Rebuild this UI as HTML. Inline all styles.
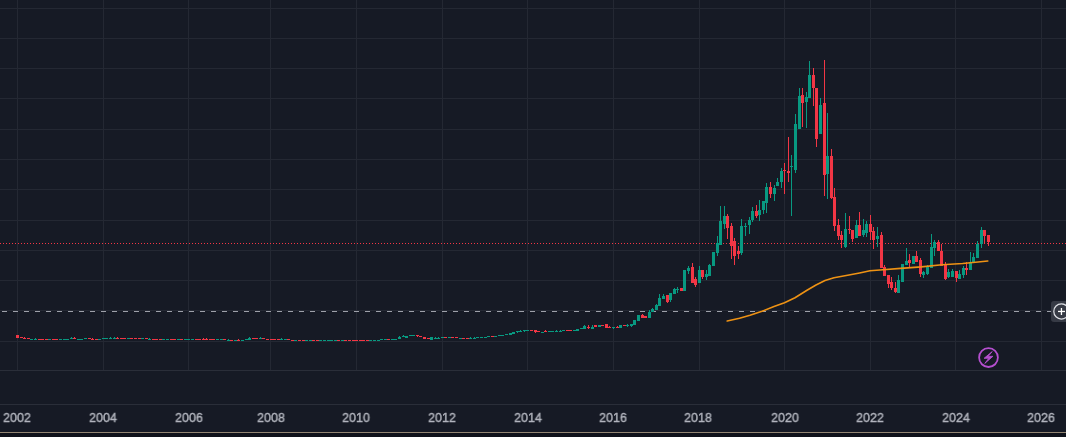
<!DOCTYPE html>
<html><head><meta charset="utf-8"><style>
html,body{margin:0;padding:0;}
body{width:1066px;height:437px;overflow:hidden;background:#161a25;position:relative;font-family:"Liberation Sans",sans-serif;}
svg{position:absolute;left:0;top:0;}
.lb{position:absolute;top:409px;width:60px;text-align:center;font-size:13px;line-height:18px;color:#b2b5be;-webkit-text-stroke:0.4px #b2b5be;transform:scaleX(0.96);will-change:transform;}
.bot{position:absolute;left:0;top:432px;width:1066px;height:1px;background:#928572;}
.bot2{position:absolute;left:0;top:433px;width:1066px;height:4px;background:#0f121a;}
.plus{position:absolute;left:1051px;top:301px;width:30px;height:21px;border-radius:3px;background:#363a45;}
</style></head><body>
<svg width="1066" height="437" viewBox="0 0 1066 437" shape-rendering="crispEdges">
<rect x="0.00" y="8.00" width="1066.00" height="1.00" fill="#242833"/>
<rect x="0.00" y="38.00" width="1066.00" height="1.00" fill="#242833"/>
<rect x="0.00" y="68.00" width="1066.00" height="1.00" fill="#242833"/>
<rect x="0.00" y="98.00" width="1066.00" height="1.00" fill="#242833"/>
<rect x="0.00" y="129.00" width="1066.00" height="1.00" fill="#242833"/>
<rect x="0.00" y="159.00" width="1066.00" height="1.00" fill="#242833"/>
<rect x="0.00" y="189.00" width="1066.00" height="1.00" fill="#242833"/>
<rect x="0.00" y="220.00" width="1066.00" height="1.00" fill="#242833"/>
<rect x="0.00" y="250.00" width="1066.00" height="1.00" fill="#242833"/>
<rect x="0.00" y="280.00" width="1066.00" height="1.00" fill="#242833"/>
<rect x="0.00" y="310.00" width="1066.00" height="1.00" fill="#242833"/>
<rect x="0.00" y="341.00" width="1066.00" height="1.00" fill="#242833"/>
<rect x="17.00" y="0.00" width="1.00" height="370.00" fill="#242833"/>
<rect x="103.00" y="0.00" width="1.00" height="370.00" fill="#242833"/>
<rect x="188.00" y="0.00" width="1.00" height="370.00" fill="#242833"/>
<rect x="270.00" y="0.00" width="1.00" height="370.00" fill="#242833"/>
<rect x="356.00" y="0.00" width="1.00" height="370.00" fill="#242833"/>
<rect x="442.00" y="0.00" width="1.00" height="370.00" fill="#242833"/>
<rect x="527.00" y="0.00" width="1.00" height="370.00" fill="#242833"/>
<rect x="613.00" y="0.00" width="1.00" height="370.00" fill="#242833"/>
<rect x="699.00" y="0.00" width="1.00" height="370.00" fill="#242833"/>
<rect x="784.00" y="0.00" width="1.00" height="370.00" fill="#242833"/>
<rect x="870.00" y="0.00" width="1.00" height="370.00" fill="#242833"/>
<rect x="955.00" y="0.00" width="1.00" height="370.00" fill="#242833"/>
<rect x="1041.00" y="0.00" width="1.00" height="370.00" fill="#242833"/>
<rect x="0.00" y="370.00" width="1066.00" height="1.00" fill="#2a2e39"/>
<rect x="0.00" y="404.00" width="1066.00" height="1.00" fill="#2a2e39"/>
<line x1="0" y1="243.5" x2="1066" y2="243.5" stroke="#f23645" stroke-width="1" stroke-dasharray="1 2"/>
<line x1="2" y1="311.5" x2="1066" y2="311.5" stroke="#9ea1aa" stroke-width="1" stroke-dasharray="5 6"/>
<rect x="16.00" y="335.00" width="3.00" height="3.00" fill="#f23645"/>
<rect x="20.00" y="337.00" width="3.00" height="1.00" fill="#f23645"/>
<rect x="23.00" y="338.00" width="3.00" height="1.00" fill="#f23645"/>
<rect x="24.00" y="337.00" width="1.00" height="2.00" fill="#f23645"/>
<rect x="27.00" y="338.00" width="3.00" height="1.00" fill="#f23645"/>
<rect x="30.00" y="339.00" width="3.00" height="1.00" fill="#089981"/>
<rect x="34.00" y="339.00" width="3.00" height="1.00" fill="#089981"/>
<rect x="35.00" y="338.00" width="1.00" height="2.00" fill="#089981"/>
<rect x="38.00" y="339.00" width="3.00" height="1.00" fill="#f23645"/>
<rect x="41.00" y="339.00" width="3.00" height="1.00" fill="#f23645"/>
<rect x="45.00" y="339.00" width="3.00" height="1.00" fill="#f23645"/>
<rect x="48.00" y="339.00" width="3.00" height="1.00" fill="#089981"/>
<rect x="52.00" y="339.00" width="3.00" height="1.00" fill="#f23645"/>
<rect x="55.00" y="339.00" width="3.00" height="1.00" fill="#f23645"/>
<rect x="59.00" y="339.00" width="3.00" height="1.00" fill="#089981"/>
<rect x="63.00" y="339.00" width="3.00" height="1.00" fill="#089981"/>
<rect x="66.00" y="339.00" width="3.00" height="1.00" fill="#089981"/>
<rect x="70.00" y="338.00" width="3.00" height="1.00" fill="#089981"/>
<rect x="71.00" y="337.00" width="1.00" height="2.00" fill="#089981"/>
<rect x="73.00" y="338.00" width="3.00" height="1.00" fill="#f23645"/>
<rect x="74.00" y="337.00" width="1.00" height="2.00" fill="#f23645"/>
<rect x="77.00" y="339.00" width="3.00" height="1.00" fill="#089981"/>
<rect x="80.00" y="339.00" width="3.00" height="1.00" fill="#089981"/>
<rect x="84.00" y="338.00" width="3.00" height="1.00" fill="#089981"/>
<rect x="88.00" y="338.00" width="3.00" height="1.00" fill="#f23645"/>
<rect x="91.00" y="339.00" width="3.00" height="1.00" fill="#f23645"/>
<rect x="92.00" y="338.00" width="1.00" height="2.00" fill="#f23645"/>
<rect x="95.00" y="339.00" width="3.00" height="1.00" fill="#f23645"/>
<rect x="98.00" y="339.00" width="3.00" height="1.00" fill="#089981"/>
<rect x="102.00" y="338.00" width="3.00" height="1.00" fill="#089981"/>
<rect x="105.00" y="338.00" width="3.00" height="1.00" fill="#089981"/>
<rect x="109.00" y="338.00" width="3.00" height="1.00" fill="#089981"/>
<rect x="110.00" y="337.00" width="1.00" height="2.00" fill="#089981"/>
<rect x="113.00" y="338.00" width="3.00" height="1.00" fill="#089981"/>
<rect x="114.00" y="337.00" width="1.00" height="2.00" fill="#089981"/>
<rect x="116.00" y="338.00" width="3.00" height="1.00" fill="#f23645"/>
<rect x="117.00" y="337.00" width="1.00" height="2.00" fill="#f23645"/>
<rect x="120.00" y="338.00" width="3.00" height="1.00" fill="#f23645"/>
<rect x="123.00" y="338.00" width="3.00" height="1.00" fill="#f23645"/>
<rect x="127.00" y="338.00" width="3.00" height="1.00" fill="#089981"/>
<rect x="130.00" y="338.00" width="3.00" height="1.00" fill="#f23645"/>
<rect x="134.00" y="338.00" width="3.00" height="1.00" fill="#f23645"/>
<rect x="138.00" y="338.00" width="3.00" height="1.00" fill="#f23645"/>
<rect x="141.00" y="338.00" width="3.00" height="1.00" fill="#089981"/>
<rect x="145.00" y="338.00" width="3.00" height="1.00" fill="#f23645"/>
<rect x="148.00" y="339.00" width="3.00" height="1.00" fill="#089981"/>
<rect x="149.00" y="338.00" width="1.00" height="2.00" fill="#089981"/>
<rect x="152.00" y="339.00" width="3.00" height="1.00" fill="#f23645"/>
<rect x="155.00" y="339.00" width="3.00" height="1.00" fill="#f23645"/>
<rect x="159.00" y="339.00" width="3.00" height="1.00" fill="#f23645"/>
<rect x="162.00" y="339.00" width="3.00" height="1.00" fill="#089981"/>
<rect x="166.00" y="339.00" width="3.00" height="1.00" fill="#089981"/>
<rect x="170.00" y="339.00" width="3.00" height="1.00" fill="#f23645"/>
<rect x="173.00" y="339.00" width="3.00" height="1.00" fill="#f23645"/>
<rect x="177.00" y="339.00" width="3.00" height="1.00" fill="#089981"/>
<rect x="180.00" y="339.00" width="3.00" height="1.00" fill="#f23645"/>
<rect x="184.00" y="339.00" width="3.00" height="1.00" fill="#089981"/>
<rect x="187.00" y="339.00" width="3.00" height="1.00" fill="#089981"/>
<rect x="191.00" y="339.00" width="3.00" height="1.00" fill="#089981"/>
<rect x="195.00" y="339.00" width="3.00" height="1.00" fill="#f23645"/>
<rect x="198.00" y="339.00" width="3.00" height="1.00" fill="#f23645"/>
<rect x="202.00" y="339.00" width="3.00" height="1.00" fill="#f23645"/>
<rect x="203.00" y="338.00" width="1.00" height="2.00" fill="#f23645"/>
<rect x="205.00" y="339.00" width="3.00" height="1.00" fill="#f23645"/>
<rect x="206.00" y="338.00" width="1.00" height="2.00" fill="#f23645"/>
<rect x="209.00" y="339.00" width="3.00" height="1.00" fill="#f23645"/>
<rect x="212.00" y="339.00" width="3.00" height="1.00" fill="#f23645"/>
<rect x="216.00" y="339.00" width="3.00" height="1.00" fill="#089981"/>
<rect x="220.00" y="339.00" width="3.00" height="1.00" fill="#089981"/>
<rect x="223.00" y="339.00" width="3.00" height="1.00" fill="#f23645"/>
<rect x="227.00" y="340.00" width="3.00" height="1.00" fill="#089981"/>
<rect x="228.00" y="339.00" width="1.00" height="2.00" fill="#089981"/>
<rect x="230.00" y="340.00" width="3.00" height="1.00" fill="#f23645"/>
<rect x="234.00" y="340.00" width="3.00" height="1.00" fill="#089981"/>
<rect x="237.00" y="340.00" width="3.00" height="1.00" fill="#f23645"/>
<rect x="238.00" y="339.00" width="1.00" height="2.00" fill="#f23645"/>
<rect x="241.00" y="340.00" width="3.00" height="1.00" fill="#089981"/>
<rect x="245.00" y="339.00" width="3.00" height="1.00" fill="#089981"/>
<rect x="248.00" y="338.00" width="3.00" height="2.00" fill="#089981"/>
<rect x="249.00" y="337.00" width="1.00" height="3.00" fill="#089981"/>
<rect x="252.00" y="338.00" width="3.00" height="1.00" fill="#f23645"/>
<rect x="255.00" y="338.00" width="3.00" height="1.00" fill="#f23645"/>
<rect x="259.00" y="338.00" width="3.00" height="1.00" fill="#089981"/>
<rect x="260.00" y="337.00" width="1.00" height="2.00" fill="#089981"/>
<rect x="262.00" y="338.00" width="3.00" height="1.00" fill="#f23645"/>
<rect x="266.00" y="339.00" width="3.00" height="1.00" fill="#f23645"/>
<rect x="270.00" y="339.00" width="3.00" height="1.00" fill="#f23645"/>
<rect x="273.00" y="339.00" width="3.00" height="1.00" fill="#f23645"/>
<rect x="277.00" y="339.00" width="3.00" height="1.00" fill="#f23645"/>
<rect x="280.00" y="339.00" width="3.00" height="1.00" fill="#089981"/>
<rect x="281.00" y="338.00" width="1.00" height="2.00" fill="#089981"/>
<rect x="284.00" y="339.00" width="3.00" height="1.00" fill="#089981"/>
<rect x="287.00" y="339.00" width="3.00" height="1.00" fill="#f23645"/>
<rect x="291.00" y="340.00" width="3.00" height="1.00" fill="#f23645"/>
<rect x="294.00" y="340.00" width="3.00" height="1.00" fill="#089981"/>
<rect x="298.00" y="340.00" width="3.00" height="1.00" fill="#f23645"/>
<rect x="302.00" y="340.00" width="3.00" height="1.00" fill="#f23645"/>
<rect x="305.00" y="340.00" width="3.00" height="1.00" fill="#089981"/>
<rect x="309.00" y="340.00" width="3.00" height="1.00" fill="#089981"/>
<rect x="312.00" y="340.00" width="3.00" height="1.00" fill="#f23645"/>
<rect x="316.00" y="340.00" width="3.00" height="1.00" fill="#f23645"/>
<rect x="319.00" y="340.00" width="3.00" height="1.00" fill="#089981"/>
<rect x="323.00" y="340.00" width="3.00" height="1.00" fill="#089981"/>
<rect x="327.00" y="340.00" width="3.00" height="1.00" fill="#089981"/>
<rect x="330.00" y="340.00" width="3.00" height="1.00" fill="#089981"/>
<rect x="334.00" y="340.00" width="3.00" height="1.00" fill="#089981"/>
<rect x="337.00" y="340.00" width="3.00" height="1.00" fill="#f23645"/>
<rect x="341.00" y="340.00" width="3.00" height="1.00" fill="#089981"/>
<rect x="344.00" y="340.00" width="3.00" height="1.00" fill="#f23645"/>
<rect x="348.00" y="340.00" width="3.00" height="1.00" fill="#f23645"/>
<rect x="352.00" y="340.00" width="3.00" height="1.00" fill="#f23645"/>
<rect x="355.00" y="340.00" width="3.00" height="1.00" fill="#f23645"/>
<rect x="359.00" y="340.00" width="3.00" height="1.00" fill="#f23645"/>
<rect x="362.00" y="340.00" width="3.00" height="1.00" fill="#f23645"/>
<rect x="366.00" y="340.00" width="3.00" height="1.00" fill="#f23645"/>
<rect x="369.00" y="340.00" width="3.00" height="1.00" fill="#089981"/>
<rect x="373.00" y="340.00" width="3.00" height="1.00" fill="#089981"/>
<rect x="377.00" y="340.00" width="3.00" height="1.00" fill="#089981"/>
<rect x="380.00" y="339.00" width="3.00" height="1.00" fill="#089981"/>
<rect x="384.00" y="339.00" width="3.00" height="1.00" fill="#089981"/>
<rect x="387.00" y="339.00" width="3.00" height="1.00" fill="#f23645"/>
<rect x="391.00" y="339.00" width="3.00" height="1.00" fill="#089981"/>
<rect x="394.00" y="339.00" width="3.00" height="1.00" fill="#089981"/>
<rect x="398.00" y="337.00" width="3.00" height="2.00" fill="#089981"/>
<rect x="399.00" y="336.00" width="1.00" height="3.00" fill="#089981"/>
<rect x="402.00" y="336.00" width="3.00" height="1.00" fill="#089981"/>
<rect x="403.00" y="335.00" width="1.00" height="2.00" fill="#089981"/>
<rect x="405.00" y="336.00" width="3.00" height="2.00" fill="#089981"/>
<rect x="409.00" y="335.00" width="3.00" height="1.00" fill="#089981"/>
<rect x="412.00" y="335.00" width="3.00" height="1.00" fill="#089981"/>
<rect x="416.00" y="335.00" width="3.00" height="1.00" fill="#f23645"/>
<rect x="417.00" y="335.00" width="1.00" height="2.00" fill="#f23645"/>
<rect x="419.00" y="336.00" width="3.00" height="1.00" fill="#f23645"/>
<rect x="423.00" y="337.00" width="3.00" height="2.00" fill="#f23645"/>
<rect x="427.00" y="338.00" width="3.00" height="1.00" fill="#f23645"/>
<rect x="430.00" y="337.00" width="3.00" height="3.00" fill="#089981"/>
<rect x="434.00" y="338.00" width="3.00" height="1.00" fill="#089981"/>
<rect x="435.00" y="337.00" width="1.00" height="2.00" fill="#089981"/>
<rect x="437.00" y="338.00" width="3.00" height="1.00" fill="#089981"/>
<rect x="438.00" y="337.00" width="1.00" height="2.00" fill="#089981"/>
<rect x="441.00" y="337.00" width="3.00" height="1.00" fill="#089981"/>
<rect x="444.00" y="337.00" width="3.00" height="1.00" fill="#f23645"/>
<rect x="448.00" y="337.00" width="3.00" height="1.00" fill="#089981"/>
<rect x="451.00" y="337.00" width="3.00" height="1.00" fill="#f23645"/>
<rect x="455.00" y="337.00" width="3.00" height="1.00" fill="#f23645"/>
<rect x="459.00" y="338.00" width="3.00" height="1.00" fill="#089981"/>
<rect x="462.00" y="338.00" width="3.00" height="1.00" fill="#f23645"/>
<rect x="466.00" y="338.00" width="3.00" height="1.00" fill="#f23645"/>
<rect x="469.00" y="338.00" width="3.00" height="1.00" fill="#089981"/>
<rect x="470.00" y="337.00" width="1.00" height="2.00" fill="#089981"/>
<rect x="473.00" y="338.00" width="3.00" height="1.00" fill="#089981"/>
<rect x="474.00" y="337.00" width="1.00" height="2.00" fill="#089981"/>
<rect x="476.00" y="337.00" width="3.00" height="1.00" fill="#089981"/>
<rect x="480.00" y="337.00" width="3.00" height="1.00" fill="#089981"/>
<rect x="484.00" y="337.00" width="3.00" height="1.00" fill="#089981"/>
<rect x="487.00" y="336.00" width="3.00" height="1.00" fill="#089981"/>
<rect x="491.00" y="336.00" width="3.00" height="1.00" fill="#f23645"/>
<rect x="494.00" y="336.00" width="3.00" height="1.00" fill="#089981"/>
<rect x="498.00" y="335.00" width="3.00" height="1.00" fill="#089981"/>
<rect x="501.00" y="335.00" width="3.00" height="1.00" fill="#089981"/>
<rect x="505.00" y="334.00" width="3.00" height="1.00" fill="#089981"/>
<rect x="509.00" y="333.00" width="3.00" height="2.00" fill="#089981"/>
<rect x="512.00" y="332.00" width="3.00" height="2.00" fill="#089981"/>
<rect x="516.00" y="331.00" width="3.00" height="1.00" fill="#089981"/>
<rect x="517.00" y="331.00" width="1.00" height="2.00" fill="#089981"/>
<rect x="519.00" y="331.00" width="3.00" height="1.00" fill="#089981"/>
<rect x="520.00" y="330.00" width="1.00" height="2.00" fill="#089981"/>
<rect x="523.00" y="330.00" width="3.00" height="1.00" fill="#089981"/>
<rect x="524.00" y="330.00" width="1.00" height="2.00" fill="#089981"/>
<rect x="526.00" y="330.00" width="3.00" height="1.00" fill="#089981"/>
<rect x="530.00" y="330.00" width="3.00" height="1.00" fill="#f23645"/>
<rect x="534.00" y="330.00" width="3.00" height="2.00" fill="#f23645"/>
<rect x="535.00" y="330.00" width="1.00" height="3.00" fill="#f23645"/>
<rect x="537.00" y="331.00" width="3.00" height="1.00" fill="#f23645"/>
<rect x="541.00" y="332.00" width="3.00" height="1.00" fill="#089981"/>
<rect x="544.00" y="331.00" width="3.00" height="1.00" fill="#f23645"/>
<rect x="545.00" y="330.00" width="1.00" height="2.00" fill="#f23645"/>
<rect x="548.00" y="331.00" width="3.00" height="1.00" fill="#089981"/>
<rect x="551.00" y="331.00" width="3.00" height="1.00" fill="#089981"/>
<rect x="555.00" y="331.00" width="3.00" height="1.00" fill="#089981"/>
<rect x="556.00" y="330.00" width="1.00" height="2.00" fill="#089981"/>
<rect x="559.00" y="331.00" width="3.00" height="1.00" fill="#089981"/>
<rect x="560.00" y="330.00" width="1.00" height="2.00" fill="#089981"/>
<rect x="562.00" y="330.00" width="3.00" height="1.00" fill="#089981"/>
<rect x="566.00" y="330.00" width="3.00" height="1.00" fill="#f23645"/>
<rect x="569.00" y="330.00" width="3.00" height="1.00" fill="#f23645"/>
<rect x="573.00" y="330.00" width="3.00" height="1.20" fill="#089981"/>
<rect x="576.00" y="329.00" width="3.00" height="2.00" fill="#089981"/>
<rect x="580.00" y="328.00" width="3.00" height="1.20" fill="#089981"/>
<rect x="584.00" y="325.00" width="1.00" height="4.00" fill="#089981"/>
<rect x="583.00" y="326.00" width="3.00" height="3.00" fill="#089981"/>
<rect x="588.00" y="325.00" width="1.00" height="4.00" fill="#f23645"/>
<rect x="587.00" y="327.00" width="3.00" height="1.20" fill="#f23645"/>
<rect x="592.00" y="324.50" width="1.00" height="4.50" fill="#089981"/>
<rect x="591.00" y="327.00" width="3.00" height="2.00" fill="#089981"/>
<rect x="595.00" y="324.50" width="1.00" height="2.50" fill="#f23645"/>
<rect x="594.00" y="325.00" width="3.00" height="2.00" fill="#f23645"/>
<rect x="598.00" y="324.50" width="3.00" height="2.50" fill="#089981"/>
<rect x="601.00" y="324.50" width="3.00" height="1.20" fill="#f23645"/>
<rect x="605.00" y="324.00" width="3.00" height="4.00" fill="#f23645"/>
<rect x="609.00" y="326.00" width="1.00" height="2.00" fill="#f23645"/>
<rect x="608.00" y="327.00" width="3.00" height="1.00" fill="#f23645"/>
<rect x="613.00" y="327.00" width="1.00" height="2.00" fill="#089981"/>
<rect x="612.00" y="327.00" width="3.00" height="1.20" fill="#089981"/>
<rect x="617.00" y="326.00" width="1.00" height="2.00" fill="#f23645"/>
<rect x="616.00" y="326.50" width="3.00" height="1.50" fill="#f23645"/>
<rect x="619.00" y="325.00" width="3.00" height="3.00" fill="#089981"/>
<rect x="623.00" y="325.00" width="3.00" height="1.20" fill="#f23645"/>
<rect x="627.00" y="324.00" width="1.00" height="2.50" fill="#089981"/>
<rect x="626.00" y="324.50" width="3.00" height="1.50" fill="#089981"/>
<rect x="631.00" y="324.00" width="1.00" height="2.50" fill="#089981"/>
<rect x="630.00" y="324.00" width="3.00" height="2.00" fill="#089981"/>
<rect x="633.00" y="320.00" width="3.00" height="5.00" fill="#089981"/>
<rect x="637.00" y="315.00" width="3.00" height="6.00" fill="#089981"/>
<rect x="642.00" y="314.00" width="1.00" height="4.00" fill="#f23645"/>
<rect x="641.00" y="315.00" width="3.00" height="3.00" fill="#f23645"/>
<rect x="645.00" y="316.00" width="1.00" height="2.00" fill="#f23645"/>
<rect x="644.00" y="316.00" width="3.00" height="1.50" fill="#f23645"/>
<rect x="649.00" y="310.00" width="1.00" height="8.00" fill="#089981"/>
<rect x="648.00" y="312.00" width="3.00" height="6.00" fill="#089981"/>
<rect x="652.00" y="307.50" width="1.00" height="4.50" fill="#089981"/>
<rect x="651.00" y="309.00" width="3.00" height="3.00" fill="#089981"/>
<rect x="656.00" y="303.50" width="1.00" height="6.50" fill="#089981"/>
<rect x="655.00" y="304.50" width="3.00" height="5.50" fill="#089981"/>
<rect x="659.00" y="294.00" width="1.00" height="12.00" fill="#089981"/>
<rect x="658.00" y="298.00" width="3.00" height="8.00" fill="#089981"/>
<rect x="663.00" y="293.50" width="1.00" height="5.10" fill="#089981"/>
<rect x="662.00" y="296.30" width="3.00" height="2.30" fill="#089981"/>
<rect x="667.00" y="295.20" width="1.00" height="7.80" fill="#f23645"/>
<rect x="666.00" y="295.20" width="3.00" height="6.30" fill="#f23645"/>
<rect x="670.00" y="293.00" width="1.00" height="9.00" fill="#089981"/>
<rect x="669.00" y="293.00" width="3.00" height="7.30" fill="#089981"/>
<rect x="674.00" y="287.50" width="1.00" height="6.50" fill="#089981"/>
<rect x="673.00" y="289.00" width="3.00" height="5.00" fill="#089981"/>
<rect x="677.00" y="287.00" width="1.00" height="6.00" fill="#089981"/>
<rect x="676.00" y="289.00" width="3.00" height="1.20" fill="#089981"/>
<rect x="680.00" y="287.50" width="3.00" height="3.70" fill="#f23645"/>
<rect x="683.00" y="270.00" width="3.00" height="21.00" fill="#089981"/>
<rect x="688.00" y="266.20" width="1.00" height="7.40" fill="#089981"/>
<rect x="687.00" y="268.00" width="3.00" height="3.30" fill="#089981"/>
<rect x="692.00" y="262.70" width="1.00" height="20.10" fill="#f23645"/>
<rect x="691.00" y="266.70" width="3.00" height="16.10" fill="#f23645"/>
<rect x="695.00" y="277.00" width="1.00" height="9.80" fill="#f23645"/>
<rect x="694.00" y="278.80" width="3.00" height="5.70" fill="#f23645"/>
<rect x="699.00" y="266.20" width="1.00" height="16.60" fill="#089981"/>
<rect x="698.00" y="270.00" width="3.00" height="12.80" fill="#089981"/>
<rect x="702.00" y="270.20" width="1.00" height="8.80" fill="#f23645"/>
<rect x="701.00" y="270.20" width="3.00" height="6.80" fill="#f23645"/>
<rect x="706.00" y="270.00" width="1.00" height="10.00" fill="#089981"/>
<rect x="705.00" y="274.20" width="3.00" height="2.80" fill="#089981"/>
<rect x="709.00" y="263.50" width="1.00" height="12.50" fill="#089981"/>
<rect x="708.00" y="264.50" width="3.00" height="11.50" fill="#089981"/>
<rect x="712.00" y="252.00" width="3.00" height="13.60" fill="#089981"/>
<rect x="717.00" y="235.90" width="1.00" height="20.10" fill="#089981"/>
<rect x="716.00" y="243.30" width="3.00" height="9.70" fill="#089981"/>
<rect x="720.00" y="206.40" width="1.00" height="38.60" fill="#089981"/>
<rect x="719.00" y="221.00" width="3.00" height="24.00" fill="#089981"/>
<rect x="724.00" y="206.00" width="1.00" height="23.00" fill="#089981"/>
<rect x="723.00" y="216.00" width="3.00" height="8.00" fill="#089981"/>
<rect x="727.00" y="214.00" width="1.00" height="25.00" fill="#f23645"/>
<rect x="726.00" y="216.00" width="3.00" height="12.00" fill="#f23645"/>
<rect x="731.00" y="222.50" width="1.00" height="36.50" fill="#f23645"/>
<rect x="730.00" y="226.00" width="3.00" height="20.00" fill="#f23645"/>
<rect x="734.00" y="238.00" width="1.00" height="27.00" fill="#f23645"/>
<rect x="733.00" y="241.00" width="3.00" height="15.00" fill="#f23645"/>
<rect x="738.00" y="246.00" width="1.00" height="13.00" fill="#f23645"/>
<rect x="737.00" y="251.00" width="3.00" height="3.00" fill="#f23645"/>
<rect x="741.00" y="219.00" width="1.00" height="36.00" fill="#089981"/>
<rect x="740.00" y="226.00" width="3.00" height="27.00" fill="#089981"/>
<rect x="745.00" y="223.00" width="1.00" height="13.00" fill="#089981"/>
<rect x="744.00" y="225.70" width="3.00" height="1.60" fill="#089981"/>
<rect x="749.00" y="217.00" width="1.00" height="17.00" fill="#089981"/>
<rect x="748.00" y="220.00" width="3.00" height="4.70" fill="#089981"/>
<rect x="752.00" y="207.00" width="1.00" height="14.60" fill="#089981"/>
<rect x="751.00" y="210.80" width="3.00" height="9.20" fill="#089981"/>
<rect x="756.00" y="204.60" width="1.00" height="13.40" fill="#f23645"/>
<rect x="755.00" y="210.80" width="3.00" height="5.20" fill="#f23645"/>
<rect x="759.00" y="200.00" width="1.00" height="21.00" fill="#089981"/>
<rect x="758.00" y="209.80" width="3.00" height="5.20" fill="#089981"/>
<rect x="763.00" y="201.00" width="1.00" height="12.90" fill="#089981"/>
<rect x="762.00" y="201.00" width="3.00" height="8.80" fill="#089981"/>
<rect x="766.00" y="183.00" width="1.00" height="29.80" fill="#089981"/>
<rect x="765.00" y="187.00" width="3.00" height="16.00" fill="#089981"/>
<rect x="770.00" y="182.00" width="1.00" height="16.00" fill="#f23645"/>
<rect x="769.00" y="187.00" width="3.00" height="7.00" fill="#f23645"/>
<rect x="774.00" y="185.00" width="1.00" height="15.70" fill="#089981"/>
<rect x="773.00" y="188.00" width="3.00" height="6.00" fill="#089981"/>
<rect x="777.00" y="178.00" width="1.00" height="8.00" fill="#089981"/>
<rect x="776.00" y="182.00" width="3.00" height="4.00" fill="#089981"/>
<rect x="781.00" y="167.50" width="1.00" height="20.50" fill="#089981"/>
<rect x="780.00" y="171.00" width="3.00" height="11.00" fill="#089981"/>
<rect x="784.00" y="163.00" width="1.00" height="31.00" fill="#f23645"/>
<rect x="783.00" y="169.50" width="3.00" height="1.50" fill="#f23645"/>
<rect x="788.00" y="136.50" width="1.00" height="45.50" fill="#f23645"/>
<rect x="787.00" y="171.00" width="3.00" height="2.00" fill="#f23645"/>
<rect x="791.00" y="154.60" width="1.00" height="61.40" fill="#089981"/>
<rect x="790.00" y="165.60" width="3.00" height="1.40" fill="#089981"/>
<rect x="795.00" y="113.80" width="1.00" height="59.20" fill="#089981"/>
<rect x="794.00" y="124.00" width="3.00" height="46.00" fill="#089981"/>
<rect x="799.00" y="88.00" width="1.00" height="41.00" fill="#089981"/>
<rect x="798.00" y="96.00" width="3.00" height="33.00" fill="#089981"/>
<rect x="802.00" y="88.00" width="1.00" height="38.50" fill="#f23645"/>
<rect x="801.00" y="95.00" width="3.00" height="7.50" fill="#f23645"/>
<rect x="806.00" y="92.00" width="1.00" height="36.00" fill="#089981"/>
<rect x="805.00" y="97.00" width="3.00" height="5.00" fill="#089981"/>
<rect x="809.00" y="61.00" width="1.00" height="37.00" fill="#089981"/>
<rect x="808.00" y="75.00" width="3.00" height="23.00" fill="#089981"/>
<rect x="813.00" y="68.00" width="1.00" height="38.00" fill="#f23645"/>
<rect x="812.00" y="75.00" width="3.00" height="13.00" fill="#f23645"/>
<rect x="816.00" y="88.00" width="1.00" height="59.00" fill="#f23645"/>
<rect x="815.00" y="88.00" width="3.00" height="51.00" fill="#f23645"/>
<rect x="820.00" y="98.00" width="1.00" height="36.00" fill="#089981"/>
<rect x="819.00" y="105.00" width="3.00" height="29.00" fill="#089981"/>
<rect x="824.00" y="60.00" width="1.00" height="136.00" fill="#f23645"/>
<rect x="823.00" y="103.00" width="3.00" height="71.50" fill="#f23645"/>
<rect x="827.00" y="113.00" width="1.00" height="86.00" fill="#089981"/>
<rect x="826.00" y="156.00" width="3.00" height="18.00" fill="#089981"/>
<rect x="831.00" y="149.00" width="1.00" height="50.00" fill="#f23645"/>
<rect x="830.00" y="156.00" width="3.00" height="42.00" fill="#f23645"/>
<rect x="834.00" y="188.00" width="1.00" height="43.00" fill="#f23645"/>
<rect x="833.00" y="197.00" width="3.00" height="29.00" fill="#f23645"/>
<rect x="838.00" y="219.00" width="1.00" height="21.00" fill="#f23645"/>
<rect x="837.00" y="225.00" width="3.00" height="11.00" fill="#f23645"/>
<rect x="841.00" y="231.00" width="1.00" height="16.70" fill="#f23645"/>
<rect x="840.00" y="235.00" width="3.00" height="5.00" fill="#f23645"/>
<rect x="845.00" y="213.00" width="1.00" height="35.00" fill="#089981"/>
<rect x="844.00" y="229.00" width="3.00" height="18.00" fill="#089981"/>
<rect x="849.00" y="216.00" width="1.00" height="18.00" fill="#f23645"/>
<rect x="848.00" y="228.50" width="3.00" height="1.20" fill="#f23645"/>
<rect x="852.00" y="230.00" width="1.00" height="11.50" fill="#f23645"/>
<rect x="851.00" y="230.00" width="3.00" height="9.00" fill="#f23645"/>
<rect x="856.00" y="220.00" width="1.00" height="17.70" fill="#089981"/>
<rect x="855.00" y="225.00" width="3.00" height="12.70" fill="#089981"/>
<rect x="859.00" y="212.00" width="1.00" height="24.00" fill="#f23645"/>
<rect x="858.00" y="225.00" width="3.00" height="11.00" fill="#f23645"/>
<rect x="863.00" y="219.00" width="1.00" height="17.50" fill="#089981"/>
<rect x="862.00" y="230.00" width="3.00" height="5.00" fill="#089981"/>
<rect x="866.00" y="220.70" width="1.00" height="15.80" fill="#089981"/>
<rect x="865.00" y="224.00" width="3.00" height="9.00" fill="#089981"/>
<rect x="870.00" y="215.00" width="1.00" height="24.60" fill="#f23645"/>
<rect x="869.00" y="224.00" width="3.00" height="8.00" fill="#f23645"/>
<rect x="873.00" y="227.00" width="1.00" height="22.00" fill="#f23645"/>
<rect x="872.00" y="231.00" width="3.00" height="9.00" fill="#f23645"/>
<rect x="877.00" y="227.00" width="1.00" height="20.00" fill="#089981"/>
<rect x="876.00" y="236.00" width="3.00" height="3.00" fill="#089981"/>
<rect x="881.00" y="232.00" width="1.00" height="36.00" fill="#f23645"/>
<rect x="880.00" y="235.00" width="3.00" height="33.00" fill="#f23645"/>
<rect x="884.00" y="264.80" width="1.00" height="11.40" fill="#f23645"/>
<rect x="883.00" y="267.40" width="3.00" height="8.80" fill="#f23645"/>
<rect x="888.00" y="275.00" width="1.00" height="13.00" fill="#f23645"/>
<rect x="887.00" y="275.00" width="3.00" height="9.00" fill="#f23645"/>
<rect x="891.00" y="277.00" width="1.00" height="13.00" fill="#f23645"/>
<rect x="890.00" y="282.40" width="3.00" height="5.60" fill="#f23645"/>
<rect x="895.00" y="282.00" width="1.00" height="11.00" fill="#f23645"/>
<rect x="894.00" y="287.50" width="3.00" height="4.00" fill="#f23645"/>
<rect x="898.00" y="275.00" width="1.00" height="18.40" fill="#089981"/>
<rect x="897.00" y="280.00" width="3.00" height="13.40" fill="#089981"/>
<rect x="901.00" y="264.00" width="3.00" height="17.50" fill="#089981"/>
<rect x="906.00" y="248.00" width="1.00" height="17.00" fill="#089981"/>
<rect x="905.00" y="261.00" width="3.00" height="4.00" fill="#089981"/>
<rect x="909.00" y="254.00" width="1.00" height="12.50" fill="#f23645"/>
<rect x="908.00" y="259.70" width="3.00" height="3.60" fill="#f23645"/>
<rect x="912.00" y="256.00" width="3.00" height="8.00" fill="#089981"/>
<rect x="916.00" y="251.00" width="1.00" height="11.30" fill="#f23645"/>
<rect x="915.00" y="255.50" width="3.00" height="6.80" fill="#f23645"/>
<rect x="920.00" y="258.00" width="1.00" height="19.00" fill="#f23645"/>
<rect x="919.00" y="259.60" width="3.00" height="14.40" fill="#f23645"/>
<rect x="923.00" y="271.00" width="1.00" height="7.00" fill="#089981"/>
<rect x="922.00" y="271.50" width="3.00" height="3.50" fill="#089981"/>
<rect x="927.00" y="265.00" width="1.00" height="10.00" fill="#089981"/>
<rect x="926.00" y="266.50" width="3.00" height="7.50" fill="#089981"/>
<rect x="931.00" y="234.00" width="1.00" height="34.00" fill="#089981"/>
<rect x="930.00" y="247.00" width="3.00" height="21.00" fill="#089981"/>
<rect x="934.00" y="240.00" width="1.00" height="16.00" fill="#089981"/>
<rect x="933.00" y="242.40" width="3.00" height="5.40" fill="#089981"/>
<rect x="938.00" y="240.00" width="1.00" height="11.30" fill="#f23645"/>
<rect x="937.00" y="241.70" width="3.00" height="9.60" fill="#f23645"/>
<rect x="941.00" y="243.70" width="1.00" height="22.70" fill="#f23645"/>
<rect x="940.00" y="251.00" width="3.00" height="15.40" fill="#f23645"/>
<rect x="945.00" y="261.70" width="1.00" height="18.30" fill="#f23645"/>
<rect x="944.00" y="263.70" width="3.00" height="14.80" fill="#f23645"/>
<rect x="948.00" y="269.00" width="1.00" height="9.00" fill="#089981"/>
<rect x="947.00" y="272.00" width="3.00" height="5.00" fill="#089981"/>
<rect x="952.00" y="269.00" width="1.00" height="7.50" fill="#089981"/>
<rect x="951.00" y="270.70" width="3.00" height="5.80" fill="#089981"/>
<rect x="956.00" y="271.00" width="1.00" height="10.80" fill="#f23645"/>
<rect x="955.00" y="271.00" width="3.00" height="7.00" fill="#f23645"/>
<rect x="959.00" y="270.00" width="1.00" height="8.60" fill="#089981"/>
<rect x="958.00" y="273.70" width="3.00" height="4.90" fill="#089981"/>
<rect x="963.00" y="266.40" width="1.00" height="11.30" fill="#089981"/>
<rect x="962.00" y="268.00" width="3.00" height="7.00" fill="#089981"/>
<rect x="966.00" y="262.40" width="1.00" height="12.90" fill="#f23645"/>
<rect x="965.00" y="268.40" width="3.00" height="1.60" fill="#f23645"/>
<rect x="970.00" y="251.50" width="1.00" height="18.00" fill="#089981"/>
<rect x="969.00" y="262.30" width="3.00" height="7.20" fill="#089981"/>
<rect x="973.00" y="252.80" width="1.00" height="9.20" fill="#089981"/>
<rect x="972.00" y="256.80" width="3.00" height="5.20" fill="#089981"/>
<rect x="977.00" y="240.80" width="1.00" height="17.20" fill="#089981"/>
<rect x="976.00" y="244.00" width="3.00" height="13.60" fill="#089981"/>
<rect x="981.00" y="227.20" width="1.00" height="20.80" fill="#089981"/>
<rect x="980.00" y="229.60" width="3.00" height="14.40" fill="#089981"/>
<rect x="984.00" y="229.60" width="1.00" height="13.60" fill="#f23645"/>
<rect x="983.00" y="229.60" width="3.00" height="6.40" fill="#f23645"/>
<rect x="988.00" y="235.20" width="1.00" height="10.40" fill="#f23645"/>
<rect x="987.00" y="235.20" width="3.00" height="6.40" fill="#f23645"/>
</svg>
<div class="lb" style="left:-13.0px">2002</div>
<div class="lb" style="left:73.0px">2004</div>
<div class="lb" style="left:158.5px">2006</div>
<div class="lb" style="left:240.5px">2008</div>
<div class="lb" style="left:326.0px">2010</div>
<div class="lb" style="left:411.7px">2012</div>
<div class="lb" style="left:497.7px">2014</div>
<div class="lb" style="left:582.7px">2016</div>
<div class="lb" style="left:668.4px">2018</div>
<div class="lb" style="left:754.5px">2020</div>
<div class="lb" style="left:840.0px">2022</div>
<div class="lb" style="left:925.6px">2024</div>
<div class="lb" style="left:1011.0px">2026</div>
<div class="bot"></div><div class="bot2"></div>
<div class="plus"></div>
<svg width="1066" height="437" viewBox="0 0 1066 437">
<polyline points="727.2,321.0 739.5,318.3 750.0,315.3 762.0,311.3 774.0,306.6 784.5,302.8 795.0,297.7 807.0,290.3 816.0,285.0 825.0,280.5 834.0,277.8 847.6,275.3 859.6,273.0 870.0,270.8 880.0,270.0 900.6,268.4 921.3,266.9 942.0,264.8 962.6,263.5 978.0,262.0 987.8,261.0" fill="none" stroke="#ee9214" stroke-width="1.6" stroke-linejoin="round" stroke-linecap="round"/>
<circle cx="1061.4" cy="311.4" r="7.6" fill="none" stroke="#dcdee3" stroke-width="1.25"/>
<rect x="1058" y="310.8" width="7" height="1.3" fill="#fff"/>
<rect x="1060.8" y="308" width="1.3" height="7" fill="#fff"/>
<circle cx="988.5" cy="357.6" r="9.4" fill="none" stroke="#b54fcf" stroke-width="1.8"/>
<path d="M992.2 351.6 L984.1 358.3 L988.9 358.2 L984.8 363.4 L992.9 356.3 L988.1 356.4 Z" fill="#b54fcf" stroke="#b54fcf" stroke-width="0.9" stroke-linejoin="round"/>
</svg>
</body></html>
